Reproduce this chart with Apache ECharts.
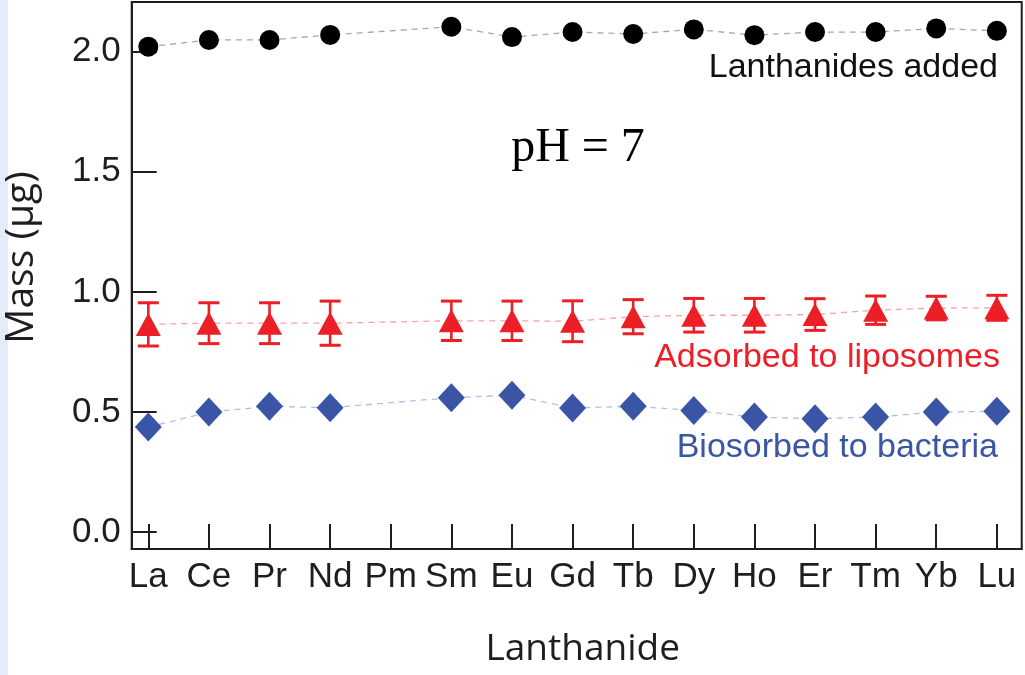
<!DOCTYPE html>
<html>
<head>
<meta charset="utf-8">
<script src="https://cdn.jsdelivr.net/npm/echarts@6/dist/echarts.min.js"></script>
<style>
html,body{margin:0;padding:0;background:#fff;}
#chart{width:1025px;height:675px;}
</style>
</head>
<body>
<div id="chart"></div>
<script>
const elements = ['La','Ce','Pr','Nd','Pm','Sm','Eu','Gd','Tb','Dy','Ho','Er','Tm','Yb','Lu'];
const yTicks = [0, 0.5, 1.0, 1.5, 2.0];
const added = [2.021, 2.049, 2.049, 2.070, null, 2.104, 2.061, 2.082, 2.074, 2.093, 2.069, 2.082, 2.082, 2.097, 2.087];
const liposomes = [0.865, 0.870, 0.870, 0.870, null, 0.880, 0.880, 0.878, 0.897, 0.903, 0.903, 0.906, 0.924, 0.933, 0.934];
const liposomesErr = [0.090, 0.085, 0.085, 0.092, null, 0.082, 0.082, 0.085, 0.071, 0.070, 0.070, 0.066, 0.059, 0.049, 0.052];
const bacteria = [0.4375, 0.500, 0.524, 0.518, null, 0.560, 0.570, 0.517, 0.524, 0.507, 0.479, 0.4725, 0.479, 0.500, 0.503];

const RED = '#ec1f27', BLUE = '#3a55a5', INK = '#1e1e1e';
const idx = elements.map((_, i) => i);
const pairs = arr => idx.filter(i => arr[i] != null).map(i => [i, arr[i]]);
const errData = idx.filter(i => liposomes[i] != null)
  .map(i => [i, liposomes[i] - liposomesErr[i], liposomes[i] + liposomesErr[i]]);

const chart = echarts.init(document.getElementById('chart'), null, {renderer: 'canvas'});
const tickFont = {fontFamily: '"Liberation Sans", Arial, sans-serif', fontSize: 35, color: INK};

chart.setOption({
  animation: false,
  backgroundColor: '#fff',
  grid: {left: 131.7, right: 3.3, top: 2, bottom: 126, containLabel: false, outerBoundsMode: 'none',
    show: true, borderColor: INK, borderWidth: 2, backgroundColor: 'transparent'},
  xAxis: {
    type: 'value', min: -0.274, max: 14.41,
    name: 'Lanthanide', nameLocation: 'middle', nameGap: 82,
    nameTextStyle: {fontFamily: '"Open Sans", sans-serif', fontSize: 37, color: INK, padding: [0, 0, 0, 12]},
    axisLine: {show: true, onZero: false, lineStyle: {color: INK, width: 2}},
    axisTick: {show: true, inside: true, length: 25, customValues: idx, lineStyle: {color: INK, width: 2}},
    axisLabel: Object.assign({margin: 11, customValues: idx, formatter: v => elements[Math.round(v)] || ''}, tickFont),
    splitLine: {show: false}
  },
  yAxis: {
    type: 'value', min: -0.07, max: 2.207,
    name: 'Mass (μg)', nameLocation: 'middle', nameGap: 90, nameRotate: 90,
    nameTextStyle: {fontFamily: '"Open Sans", sans-serif', fontSize: 39, color: INK, padding: [0, 0, 0, 36]},
    axisLine: {show: true, onZero: false, lineStyle: {color: INK, width: 2}},
    axisTick: {show: true, inside: true, length: 25, customValues: yTicks, lineStyle: {color: INK, width: 2}},
    axisLabel: Object.assign({margin: 11, customValues: yTicks, formatter: v => v.toFixed(1)}, tickFont),
    splitLine: {show: false}
  },
  series: [
    {
      type: 'line', data: pairs(added), symbol: 'circle', symbolSize: 20,
      itemStyle: {color: '#000'}, lineStyle: {color: '#a8a8a8', width: 1.3, type: [6, 5]}, z: 3
    },
    {
      type: 'custom', data: errData, encode: {x: 0, y: [1, 2]}, z: 2,
      renderItem: function (params, api) {
        const x = api.value(0);
        const lo = api.coord([x, api.value(1)]);
        const hi = api.coord([x, api.value(2)]);
        const w = 10.5;
        return {type: 'group', children: [
          {type: 'line', shape: {x1: hi[0], y1: hi[1], x2: lo[0], y2: lo[1]}, style: {stroke: RED, lineWidth: 2.6}},
          {type: 'line', shape: {x1: hi[0] - w, y1: hi[1], x2: hi[0] + w, y2: hi[1]}, style: {stroke: RED, lineWidth: 3}},
          {type: 'line', shape: {x1: lo[0] - w, y1: lo[1], x2: lo[0] + w, y2: lo[1]}, style: {stroke: RED, lineWidth: 3}}
        ]};
      }
    },
    {
      type: 'line', data: pairs(liposomes), symbol: 'triangle', symbolSize: [25, 23],
      itemStyle: {color: RED}, lineStyle: {color: '#f5a4a6', width: 1.3, type: [6, 5]}, z: 3
    },
    {
      type: 'line', data: pairs(bacteria), symbol: 'diamond', symbolSize: [27, 29],
      itemStyle: {color: BLUE}, lineStyle: {color: '#b3bfe2', width: 1.3, type: [6, 5]}, z: 3
    }
  ],
  graphic: [
    {type: 'rect', left: 0, top: 0, shape: {width: 8, height: 675}, style: {fill: '#e3edf8'}, silent: true},
    {type: 'text', x: 578, y: 148, style: {text: 'pH = 7', font: '48px "Liberation Serif", "Times New Roman", serif', fill: '#000', align: 'center', verticalAlign: 'middle'}},
    {type: 'text', x: 998, y: 68, style: {text: 'Lanthanides added', font: '34px "Liberation Sans", Arial, sans-serif', fill: '#111', align: 'right', verticalAlign: 'middle'}},
    {type: 'text', x: 1000, y: 358, style: {text: 'Adsorbed to liposomes', font: '34px "Liberation Sans", Arial, sans-serif', fill: RED, align: 'right', verticalAlign: 'middle'}},
    {type: 'text', x: 998, y: 448, style: {text: 'Biosorbed to bacteria', font: '34px "Liberation Sans", Arial, sans-serif', fill: BLUE, align: 'right', verticalAlign: 'middle'}}
  ]
});
</script>
</body>
</html>
